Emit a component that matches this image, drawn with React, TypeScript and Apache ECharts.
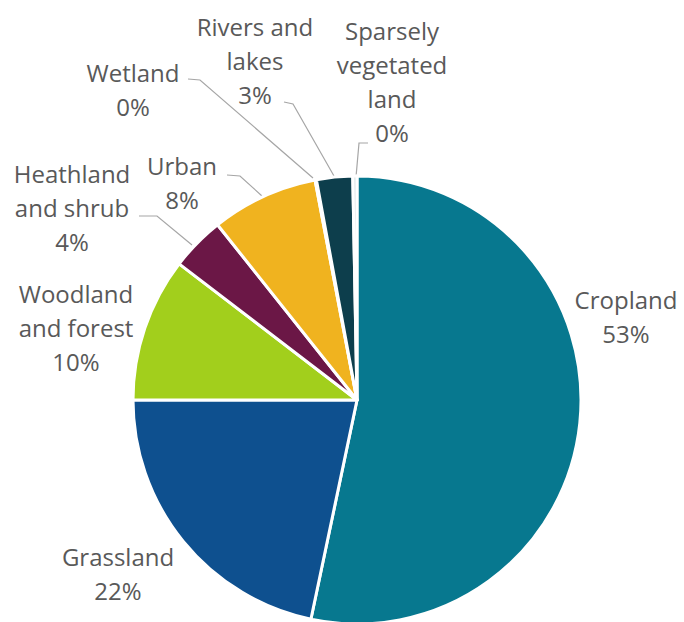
import React, { useEffect, useRef } from "react";
import * as echarts from "echarts";

const categories = [
  "Cropland",
  "Grassland",
  "Woodland and forest",
  "Heathland and shrub",
  "Urban",
  "Wetland",
  "Rivers and lakes",
  "Sparsely vegetated land",
];
const labelNames = [
  "Cropland",
  "Grassland",
  "Woodland\nand forest",
  "Heathland\nand shrub",
  "Urban",
  "Wetland",
  "Rivers and\nlakes",
  "Sparsely\nvegetated\nland",
];
const shares = [53.3, 21.7, 10.4, 3.9, 7.7, 0.1, 2.6, 0.3];
const colors = ["#07788f", "#0e508f", "#a2cf1c", "#6b1746", "#f0b31f", "#2f6f7a", "#0d3e4c", "#d8e4e6"];

// label placement (style, not data)
const labelPos: { x: number; y: number; line?: number[][] }[] = [
  { x: 626, y: 316 },
  { x: 118, y: 573 },
  { x: 76, y: 327 },
  { x: 72, y: 207, line: [[192, 245], [157, 216], [139, 216]] },
  { x: 182, y: 182, line: [[262, 196], [240, 176], [227, 175]] },
  { x: 133, y: 89, line: [[313, 178], [200, 80], [188, 79]] },
  { x: 255, y: 60, line: [[334, 176], [293, 104], [284, 102]] },
  { x: 392, y: 81, line: [[356, 177], [359, 143], [368, 143]] },
];

export default function App() {
  const ref = useRef<HTMLDivElement>(null);
  useEffect(() => {
    if (!ref.current) return;
    const chart = echarts.init(ref.current, undefined, { renderer: "svg" });
    chart.setOption({
      animation: false,
      backgroundColor: "#ffffff",
      series: [
        {
          type: "pie",
          center: [357, 400],
          radius: 224,
          startAngle: 90,
          clockwise: true,
          minAngle: 0,
          avoidLabelOverlap: false,
          itemStyle: { borderColor: "#ffffff", borderWidth: 3 },
          label: {
            show: true,
            fontFamily: "Open Sans",
            fontSize: 24,
            lineHeight: 34,
            color: "#595959",
            align: "center",
            formatter: (p: any) => `${labelNames[p.dataIndex]}\n${Math.round(p.percent)}%`,
          },
          labelLine: {
            show: true,
            lineStyle: { color: "#a6a6a6", width: 1.2 },
          },
          labelLayout: (params: any) => {
            const lp = labelPos[params.dataIndex];
            const res: any = { x: lp.x, y: lp.y, align: "center", verticalAlign: "middle" };
            if (lp.line) res.labelLinePoints = lp.line;
            return res;
          },
          data: categories.map((name, i) => ({
            name,
            value: shares[i],
            itemStyle: { color: colors[i] },
            labelLine: { show: !!labelPos[i].line },
          })),
        },
      ],
    });
    return () => chart.dispose();
  }, []);
  return (
    <div
      ref={ref}
      style={{ position: "absolute", left: 0, top: 0, width: 684, height: 622 }}
    />
  );
}
